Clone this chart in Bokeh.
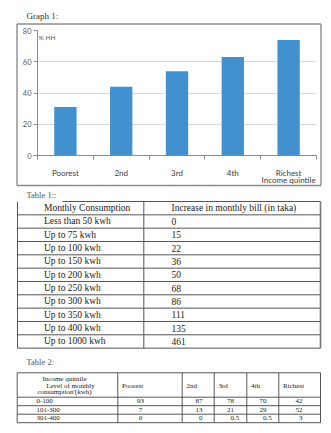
from bokeh.plotting import figure
from bokeh.models import Range1d, FixedTicker
from bokeh.core.properties import value
from bokeh.embed import file_html
from bokeh.resources import INLINE

# ---------------- data ----------------
quintiles = ["Poorest", "2nd", "3rd", "4th", "Richest"]
share_hh = [31, 44, 54, 63, 74]
y_ticks = [0, 20, 40, 60, 80]
x_axis_title = "Income quintile"
y_axis_title = "% HH"

t1_header = ["Monthly Consumption", "Increase in monthly bill (in taka)"]
t1_consumption = ["Less than 50 kwh", "Up to 75 kwh", "Up to 100 kwh", "Up to 150 kwh",
                  "Up to 200 kwh", "Up to 250 kwh", "Up to 300 kwh", "Up to 350 kwh",
                  "Up to 400 kwh", "Up to 1000 kwh"]
t1_increase = ["0", "15", "22", "36", "50", "68", "86", "111", "135", "461"]

t2_header_lines = ["Income quintile", "Level of monthly", "consumption'(kwh)"]
t2_levels = ["0-100", "101-300", "301-400"]
t2_poorest = ["93", "7", "0"]
t2_second = ["87", "13", "0"]
t2_third = ["78", "21", "0.5"]
t2_fourth = ["70", "29", "0.5"]
t2_richest = ["42", "52", "3"]

SERIF = "Liberation Serif"
SANS = "Lato"
W, H = 331, 433
CHART_H = 190

# ---------------- page: heading, chart border, tables ----------------
page = figure(width=W, height=H, x_range=Range1d(0, W), y_range=Range1d(H, 0),
              output_backend="svg", toolbar_location=None, min_border=0,
              x_axis_location=None, y_axis_location=None)
page.grid.visible = False
page.outline_line_color = None
page.background_fill_color = "white"
page.border_fill_color = "white"

def hline(y, x0, x1, color="#555555", w=1.0):
    page.segment(x0=[x0], y0=[y], x1=[x1], y1=[y], line_color=color, line_width=w)

def vline(x, y0, y1, color="#555555", w=1.0):
    page.segment(x0=[x], y0=[y0], x1=[x], y1=[y1], line_color=color, line_width=w)

def texts(xs, ys, ts, size, align="left", color="#1a1a1a", font=SERIF):
    page.text(x=xs, y=ys, text=ts, text_font=value(font), text_font_size=value(size),
              text_baseline="middle", text_align=align, text_color=color)

texts([26], [15], ["Graph 1:"], "9px", color="#333333")
bl, br, bt, bb = 16.5, 320.5, 23.5, 185.0
hline(bt, bl, br, color="#8c8c8c", w=1.4)
hline(bb, bl, br, color="#8c8c8c", w=1.4)
vline(bl, bt, bb, color="#8c8c8c", w=1.4)
vline(br, bt, bb, color="#8c8c8c", w=1.4)

# Table 1
texts([26], [194.7], ["Table 1::"], "8.5px", color="#555555")
t1_top, t1_rh = 201.0, 13.33
t1_left, t1_div, t1_right = 17.0, 143.3, 320.0
n1 = len(t1_consumption) + 1
t1_bottom = t1_top + n1 * t1_rh
hline(t1_top, 62, t1_right)
for k in range(1, n1 + 1):
    hline(t1_top + k * t1_rh, t1_left, t1_right)
vline(t1_left, t1_top, t1_bottom)
vline(t1_div, t1_top, t1_bottom)
vline(t1_right, t1_top, t1_bottom, color="#777777", w=1.6)
rows_y = [t1_top + (i + 0.5) * t1_rh for i in range(n1)]
texts([43.5] * n1, rows_y, [t1_header[0]] + t1_consumption, "9.5px")
texts([171] * n1, rows_y, [t1_header[1]] + t1_increase, "9.5px")

# Table 2
texts([26], [361.5], ["Table 2:"], "8.5px", color="#555555")
t2_top, t2_hh, t2_rh = 372.3, 24.4, 8.5
t2_cols = [16.7, 117.3, 181.7, 213.7, 246.3, 278.3, 320.0]
n2 = len(t2_levels)
t2_bottom = t2_top + t2_hh + n2 * t2_rh
hline(t2_top, t2_cols[0], t2_cols[-1], color="#444444", w=0.9)
hline(t2_top + t2_hh, t2_cols[0], t2_cols[-1], color="#444444", w=0.9)
for k in range(1, n2 + 1):
    hline(t2_top + t2_hh + k * t2_rh, t2_cols[0], t2_cols[-1], color="#444444", w=0.9)
for cx in t2_cols:
    vline(cx, t2_top, t2_bottom, color="#444444", w=0.9)

texts([64, 70, 64], [378.3, 385.0, 391.5], t2_header_lines, "7px", align="center")
texts([c + 4.3 for c in t2_cols[1:6]], [385.3] * 5, quintiles, "7px")
r_y = [t2_top + t2_hh + (i + 0.5) * t2_rh for i in range(n2)]
texts([36] * n2, r_y, t2_levels, "7px")
texts([140] * n2, r_y, t2_poorest, "7px", align="center")

# decimal-aligned columns
anchors = [202.0, 233.5, 266.0, 302.0]
for anchor, col in zip(anchors, [t2_second, t2_third, t2_fourth, t2_richest]):
    ints = [s.split(".")[0] for s in col]
    fracs = ["." + s.split(".")[1] if "." in s else "" for s in col]
    texts([anchor] * n2, r_y, ints, "7px", align="right")
    texts([anchor] * n2, r_y, fracs, "7px", align="left")

# ---------------- chart (transparent, laid over the top of the page) ----------------
chart = figure(width=W, height=CHART_H, x_range=Range1d(0.5, len(quintiles) + 0.5),
               y_range=Range1d(y_ticks[0], y_ticks[-1]), output_backend="svg",
               toolbar_location=None, min_border_left=37, min_border_right=15,
               min_border_top=30, min_border_bottom=35,
               margin=(-H, 0, H - CHART_H, 0))
chart.outline_line_color = None
chart.background_fill_color = None
chart.border_fill_color = None

x_pos = [i + 1 for i in range(len(quintiles))]
chart.vbar(x=x_pos, top=share_hh, bottom=0, width=0.4, fill_color="#4190d0", line_color=None)
chart.text(x=[0.52], y=[75.5], text=[y_axis_title], text_font=value(SANS),
           text_font_size=value("6.5px"), text_baseline="middle", text_color="#595959")

labels = list(quintiles)
labels[-1] = labels[-1] + "\n" + x_axis_title
xa = chart.xaxis[0]
xa.ticker = FixedTicker(ticks=x_pos, minor_ticks=[i + 0.5 for i in range(len(quintiles) + 1)])
xa.major_label_overrides = {x: q for x, q in zip(x_pos, labels)}
xa.major_tick_line_color = None
xa.major_tick_out = 0
xa.major_tick_in = 0
xa.minor_tick_out = 4
xa.minor_tick_in = 0
xa.minor_tick_line_color = "#8a8a8a"
xa.axis_line_color = "#8a8a8a"
xa.major_label_standoff = 8
xa.major_label_text_font = SANS
xa.major_label_text_font_size = "8px"
xa.major_label_text_color = "#404040"
xa.major_label_text_line_height = 0.75

ya = chart.yaxis[0]
ya.ticker = FixedTicker(ticks=y_ticks)
ya.minor_tick_line_color = None
ya.major_tick_out = 4
ya.major_tick_in = 0
ya.major_tick_line_color = "#8a8a8a"
ya.axis_line_color = "#8a8a8a"
ya.major_label_standoff = 2
ya.major_label_text_font = SANS
ya.major_label_text_font_size = "7.5px"
ya.major_label_text_color = "#595959"

chart.xgrid.grid_line_color = None
chart.ygrid.grid_line_color = "#d9d9d9"

open("out.html", "w").write(file_html([page, chart], INLINE))
